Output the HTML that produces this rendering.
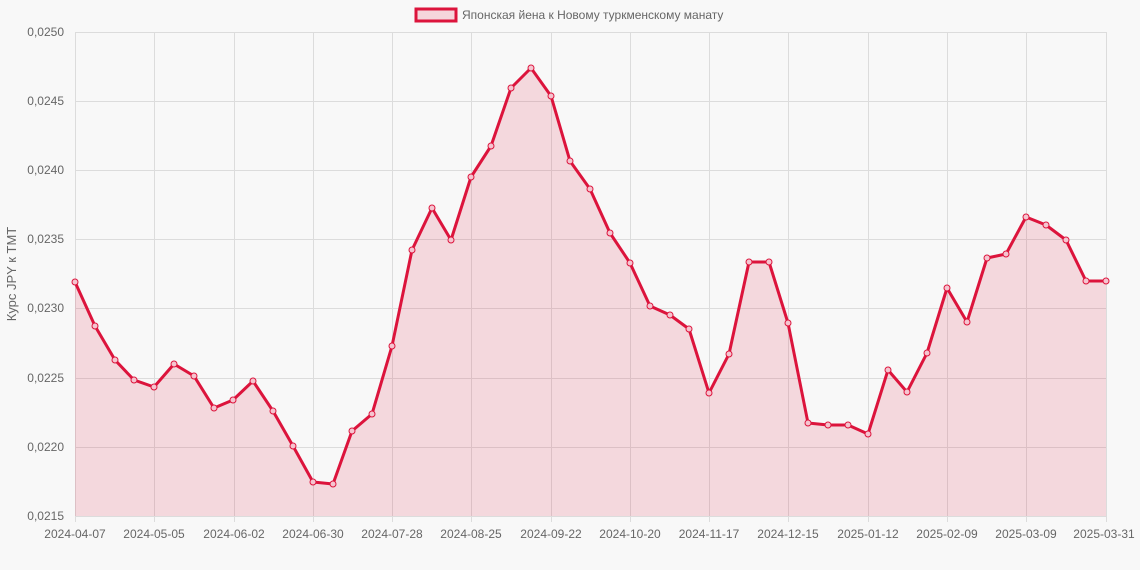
<!DOCTYPE html>
<html><head><meta charset="utf-8"><style>
body{margin:0;background:#f8f8f8;}
svg{display:block;font-family:"Liberation Sans",sans-serif;}
</style></head><body>
<svg width="1140" height="570" viewBox="0 0 1140 570">
<rect width="1140" height="570" fill="#f8f8f8"/>
<g stroke="#dcdcdc" stroke-width="1">
<line x1="75" y1="32.5" x2="1106" y2="32.5"/><line x1="75" y1="101.5" x2="1106" y2="101.5"/>
<line x1="75" y1="170.5" x2="1106" y2="170.5"/><line x1="75" y1="239.5" x2="1106" y2="239.5"/>
<line x1="75" y1="308.5" x2="1106" y2="308.5"/><line x1="75" y1="378.5" x2="1106" y2="378.5"/>
<line x1="75" y1="447.5" x2="1106" y2="447.5"/><line x1="75" y1="516.5" x2="1106" y2="516.5"/>
<line x1="75.5" y1="32" x2="75.5" y2="522"/><line x1="154.5" y1="32" x2="154.5" y2="522"/>
<line x1="234.5" y1="32" x2="234.5" y2="522"/><line x1="313.5" y1="32" x2="313.5" y2="522"/>
<line x1="392.5" y1="32" x2="392.5" y2="522"/><line x1="471.5" y1="32" x2="471.5" y2="522"/>
<line x1="551.5" y1="32" x2="551.5" y2="522"/><line x1="630.5" y1="32" x2="630.5" y2="522"/>
<line x1="709.5" y1="32" x2="709.5" y2="522"/><line x1="788.5" y1="32" x2="788.5" y2="522"/>
<line x1="868.5" y1="32" x2="868.5" y2="522"/><line x1="947.5" y1="32" x2="947.5" y2="522"/>
<line x1="1026.5" y1="32" x2="1026.5" y2="522"/><line x1="1106.5" y1="32" x2="1106.5" y2="522"/>
</g>
<g font-size="12" fill="#666" text-anchor="end">
<text x="64" y="36">0,0250</text><text x="64" y="105">0,0245</text><text x="64" y="174">0,0240</text>
<text x="64" y="243">0,0235</text><text x="64" y="312">0,0230</text><text x="64" y="382">0,0225</text>
<text x="64" y="451">0,0220</text><text x="64" y="520">0,0215</text>
</g>
<g font-size="12" fill="#666" text-anchor="middle">
<text x="75" y="538">2024-04-07</text><text x="154" y="538">2024-05-05</text><text x="234" y="538">2024-06-02</text>
<text x="313" y="538">2024-06-30</text><text x="392" y="538">2024-07-28</text><text x="471" y="538">2024-08-25</text>
<text x="551" y="538">2024-09-22</text><text x="630" y="538">2024-10-20</text><text x="709" y="538">2024-11-17</text>
<text x="788" y="538">2024-12-15</text><text x="868" y="538">2025-01-12</text><text x="947" y="538">2025-02-09</text>
<text x="1026" y="538">2025-03-09</text><text x="1104" y="538">2025-03-31</text>
</g>
<text transform="translate(16,274) rotate(-90)" font-size="13" fill="#666" text-anchor="middle">Курс JPY к TMT</text>
<rect x="416" y="9" width="40" height="12" fill="#f5d5dc" stroke="#dc143c" stroke-width="3"/>
<text x="462" y="19" font-size="12" fill="#666">Японская йена к Новому туркменскому манату</text>
<polygon fill="rgba(220,20,60,0.14)" points="75,516 75,282 95,326 115,360 134,380 154,387 174,364 194,376 214,408 233,400 253,381 273,411 293,446 313,482 333,484 352,431 372,414 392,346 412,250 432,208 451,240 471,177 491,146 511,88 531,68 551,96 570,161 590,189 610,233 630,263 650,306 670,315 689,329 709,393 729,354 749,262 769,262 788,323 808,423 828,425 848,425 868,434 888,370 907,392 927,353 947,288 967,322 987,258 1006,254 1026,217 1046,225 1066,240 1086,281 1106,281 1106,516"/>
<polyline id="ln" fill="none" stroke="#dc143c" stroke-width="3" stroke-linejoin="round" points="75,282 95,326 115,360 134,380 154,387 174,364 194,376 214,408 233,400 253,381 273,411 293,446 313,482 333,484 352,431 372,414 392,346 412,250 432,208 451,240 471,177 491,146 511,88 531,68 551,96 570,161 590,189 610,233 630,263 650,306 670,315 689,329 709,393 729,354 749,262 769,262 788,323 808,423 828,425 848,425 868,434 888,370 907,392 927,353 947,288 967,322 987,258 1006,254 1026,217 1046,225 1066,240 1086,281 1106,281"/>
<g fill="#f5c5d0" stroke="#dc143c" stroke-width="1">
<circle cx="75" cy="282" r="3"/><circle cx="95" cy="326" r="3"/><circle cx="115" cy="360" r="3"/><circle cx="134" cy="380" r="3"/><circle cx="154" cy="387" r="3"/><circle cx="174" cy="364" r="3"/><circle cx="194" cy="376" r="3"/><circle cx="214" cy="408" r="3"/><circle cx="233" cy="400" r="3"/><circle cx="253" cy="381" r="3"/><circle cx="273" cy="411" r="3"/><circle cx="293" cy="446" r="3"/><circle cx="313" cy="482" r="3"/><circle cx="333" cy="484" r="3"/><circle cx="352" cy="431" r="3"/><circle cx="372" cy="414" r="3"/><circle cx="392" cy="346" r="3"/><circle cx="412" cy="250" r="3"/><circle cx="432" cy="208" r="3"/><circle cx="451" cy="240" r="3"/><circle cx="471" cy="177" r="3"/><circle cx="491" cy="146" r="3"/><circle cx="511" cy="88" r="3"/><circle cx="531" cy="68" r="3"/><circle cx="551" cy="96" r="3"/><circle cx="570" cy="161" r="3"/><circle cx="590" cy="189" r="3"/><circle cx="610" cy="233" r="3"/><circle cx="630" cy="263" r="3"/><circle cx="650" cy="306" r="3"/><circle cx="670" cy="315" r="3"/><circle cx="689" cy="329" r="3"/><circle cx="709" cy="393" r="3"/><circle cx="729" cy="354" r="3"/><circle cx="749" cy="262" r="3"/><circle cx="769" cy="262" r="3"/><circle cx="788" cy="323" r="3"/><circle cx="808" cy="423" r="3"/><circle cx="828" cy="425" r="3"/><circle cx="848" cy="425" r="3"/><circle cx="868" cy="434" r="3"/><circle cx="888" cy="370" r="3"/><circle cx="907" cy="392" r="3"/><circle cx="927" cy="353" r="3"/><circle cx="947" cy="288" r="3"/><circle cx="967" cy="322" r="3"/><circle cx="987" cy="258" r="3"/><circle cx="1006" cy="254" r="3"/><circle cx="1026" cy="217" r="3"/><circle cx="1046" cy="225" r="3"/><circle cx="1066" cy="240" r="3"/><circle cx="1086" cy="281" r="3"/><circle cx="1106" cy="281" r="3"/>
</g>
</svg>
</body></html>
